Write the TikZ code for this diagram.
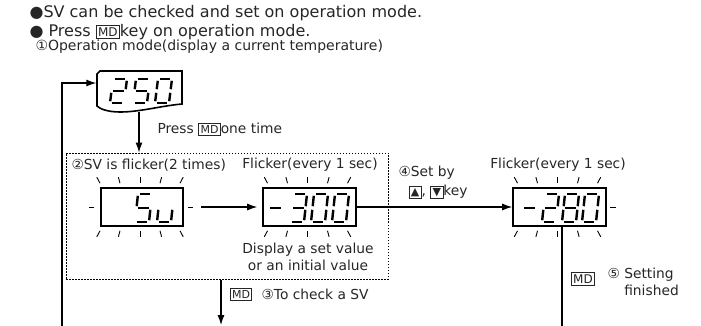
\documentclass[tikz,border=0pt]{standalone}
\usepackage{fontspec}
\setmainfont{DejaVu Sans}
\usetikzlibrary{arrows.meta,positioning,calc}
\setlength{\fboxsep}{1.5pt}
\setlength{\fboxrule}{0.8pt}
\newcommand\keymd[1][11]{\fbox{\fontsize{#1}{#1}\selectfont MD}}
\newcommand\keytri[1]{\fbox{\fontsize{11}{11}\selectfont #1}}
% one 7-segment digit: [height]{bottom-left}{segments}
\newcommand\segdigit[3][28]{%
  \begin{scope}[shift={#2}]
    \coordinate (a1) at (3,-#1); \coordinate (a2) at (17,-#1);
    \coordinate (b1) at (17,-#1); \coordinate (b2) at (15.5,-#1/2);
    \coordinate (c1) at (15.5,-#1/2); \coordinate (c2) at (14,0);
    \coordinate (d1) at (0,0); \coordinate (d2) at (14,0);
    \coordinate (e1) at (1.5,-#1/2); \coordinate (e2) at (0,0);
    \coordinate (f1) at (3,-#1); \coordinate (f2) at (1.5,-#1/2);
    \coordinate (g1) at (1.5,-#1/2); \coordinate (g2) at (15.5,-#1/2);
    \foreach \s in {#3} \draw[segment] (\s1) -- (\s2);
  \end{scope}}
% flicker rays above and below a display
\newcommand\flick[1]{%
  \foreach \dx in {-40,-20,0,20,40} {
    \draw[ray] ($(#1.north)+(\dx*1.08-2,-10)$) -- ($(#1.north)+(\dx-2,-4)$);
    \draw[ray] ($(#1.south)+(\dx-2,4)$) -- ($(#1.south)+(\dx*1.08-2,10)$);
  }}
\begin{document}
\begin{tikzpicture}[x=1pt, y=-1pt, >={Latex[length=10pt,width=7pt]},
  every node/.style={text=black!85, font=\fontsize{13.8}{17}\selectfont},
  display/.style={draw, line width=1.6pt, minimum width=93, minimum height=38, inner sep=0},
  segment/.style={line width=2.4pt, shorten <=1.8pt, shorten >=1.8pt},
  ray/.style={line width=0.9pt},
  link/.style={line width=1.1pt}]
\useasboundingbox (0,0) rectangle (701,326);
% header
\node[anchor=west, font=\fontsize{16}{18}\selectfont] (hdrone) at (26,13) {●SV can be checked and set on operation mode.};
\node[anchor=west, font=\fontsize{16}{18}\selectfont] (hdrtwo) at (26,32) {● Press \keymd[12]key on operation mode.};
\node[anchor=west, font=\fontsize{14}{17}\selectfont] (hdrthree) at (32,47) {①Operation mode(display a current temperature)};
% current temperature display
\node[minimum width=85, minimum height=41, inner sep=0] (curdisp) at (139,91.5) {};
\draw[line width=1.6pt] (97,74) -- (100,71) -- (182,71) -- (182,104)
  .. controls (160,106) and (140,112) .. (120,112) .. controls (108,112) and (100,109) .. (97,106) -- cycle;
\segdigit[24]{(110,103)}{a,b,g,e,d}
\segdigit[24]{(133,103)}{a,f,g,c,d}
\segdigit[24]{(155,103)}{a,b,c,d,e,f}
\node[anchor=west] (presstxt) at (154,129) {Press \keymd[11]one time};
% SV group
\node[draw, line width=1pt, dash pattern=on 1.5pt off 1.5pt, minimum width=322, minimum height=126] (svgroup) at (227,216) {};
\node[anchor=west] (flickerone) at (68,165) {②SV is flicker(2 times)};
\node (flickertwo) at (310,165) {Flicker(every 1 sec)};
\node[display, minimum width=82] (svdisp) at (142,207) {};
\node[display] (setdisp) at (309.5,207) {};
\node[align=center] (setnote) at (308,256.5) {Display a set value\\or an initial value};
\segdigit{(135,222)}{a,f,g,c,d}
\segdigit{(157,222)}{e,d,c}
\segdigit{(267,222)}{g}
\segdigit{(290,222)}{a,b,g,c,d}
\segdigit{(311,222)}{a,b,c,d,e,f}
\segdigit{(332,222)}{a,b,c,d,e,f}
\flick{svdisp}
\flick{setdisp}
\draw[ray] ([xshift=-11]svdisp.west) -- ([xshift=-6]svdisp.west);
\draw[ray] ([xshift=4]svdisp.east) -- ([xshift=9]svdisp.east);
% new set value display
\node (flickerthree) at (558,165) {Flicker(every 1 sec)};
\node[display] (newdisp) at (559.5,207) {};
\segdigit{(521,222)}{g}
\segdigit{(542,222)}{a,b,g,e,d}
\segdigit{(562,222)}{a,b,c,d,e,f,g}
\segdigit{(582,222)}{a,b,c,d,e,f}
\flick{newdisp}
\draw[ray] ([xshift=3]newdisp.east) -- ([xshift=9]newdisp.east);
\node[anchor=west] (setby) at (395,173) {④Set by};
\node[anchor=west] (setkeys) at (405,192) {\keytri{▲}, \keytri{▼}key};
% lower labels
\node (checkkey) at (241,294) {\keymd[11]};
\node[anchor=west] (checktxt) at (258,294) {③To check a SV};
\node (finkey) at (583,279) {\keymd[12]};
\node[anchor=west, align=left] (fintxt) at (604,282) {⑤ Setting\\\phantom{⑤ }finished};
% connectors
\coordinate (loopbot) at (62,326);
\coordinate (loopturn) at (62,83);
\coordinate (checkend) at (221,325);
\coordinate (finend) at (562,326);
\draw[link, ->] (loopbot) -- (loopturn) -- (curdisp.west |- loopturn);
\draw[link, ->] (curdisp.south) -- (curdisp.south |- svgroup.north);
\draw[link, ->] ([xshift=17]svdisp.east) -- ([xshift=-5]setdisp.west);
\draw[link, ->] (setdisp) -- (newdisp);
\draw[link, ->] (svgroup.south -| checkend) -- (checkend);
\draw[link] (newdisp.south -| finend) -- (finend);
\end{tikzpicture}
\end{document}
